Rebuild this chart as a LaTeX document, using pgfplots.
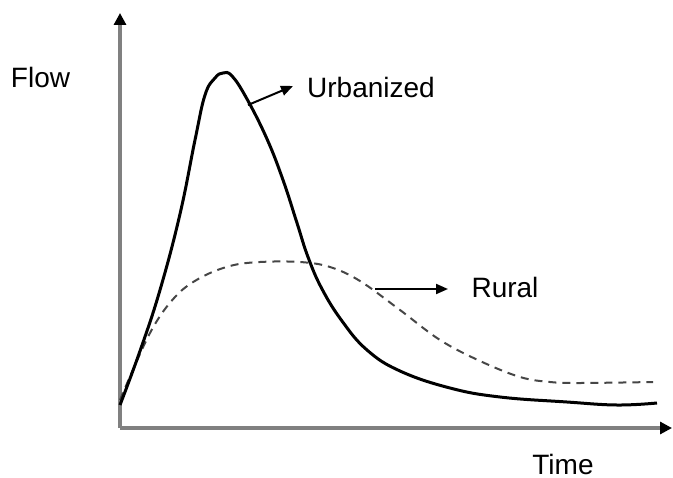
\documentclass[border=0pt]{standalone}
\usepackage{pgfplots}
\pgfplotsset{compat=1.18}
\usepackage{fontspec}
\setmainfont{Liberation Sans}
\usetikzlibrary{arrows.meta}
\definecolor{axgray}{RGB}{128,128,128}
\definecolor{dashgray}{RGB}{70,70,70}
\begin{document}
\begin{tikzpicture}
\begin{axis}[
  width=336.5pt, height=238.5pt, scale only axis,
  xmin=0, xmax=673, ymin=0, ymax=477,
  axis lines=none, clip=false,
]
\path[use as bounding box] (axis cs:0,0) rectangle (axis cs:673,477);
% axes
\addplot[axgray, line width=2pt, -{Triangle[length=6pt,width=6pt,black]}] coordinates {(120,49) (672,49)};
\addplot[axgray, line width=2pt, -{Triangle[length=6pt,width=6pt,black]}] coordinates {(120,49) (120,464)};
% Rural (dashed)
\addplot[dashgray, line width=1pt, dash pattern=on 4pt off 3pt, smooth, tension=0.6] coordinates {
(120,77) (150,144) (175,180) (200,199) (230,211) (260,215) (300,215) (330,210)
(360,196) (400,167) (440,137) (480,116) (520,100) (550,95) (580,94) (653,95)};
% Urbanized (solid)
\addplot[black, line width=1.5pt, smooth, tension=0.7] coordinates {
(120,72) (140,126) (160,187) (180,263) (195,337) (205,382) (215,399) (223,404) (232,401)
(247,378) (267,338) (283,297) (297,254) (308,220) (322,188)
(342,156) (367,127) (400,106) (450,89) (500,80) (567,75) (617,72) (657,74)};
% annotation arrows
\addplot[black, line width=1pt, -{Triangle[length=6pt,width=5pt]}] coordinates {(248,372) (293,391)};
\addplot[black, line width=1pt, -{Triangle[length=6pt,width=5pt]}] coordinates {(375,188) (448,188)};
% labels
\node[inner sep=0pt, font=\fontsize{14}{16}\selectfont] at (axis cs:40.5,400) {Flow};
\node[inner sep=0pt, font=\fontsize{14}{16}\selectfont] at (axis cs:371,390) {Urbanized};
\node[inner sep=0pt, font=\fontsize{14}{16}\selectfont] at (axis cs:505,190) {Rural};
\node[inner sep=0pt, font=\fontsize{14}{16}\selectfont] at (axis cs:563,13) {Time};
\end{axis}
\end{tikzpicture}
\end{document}
